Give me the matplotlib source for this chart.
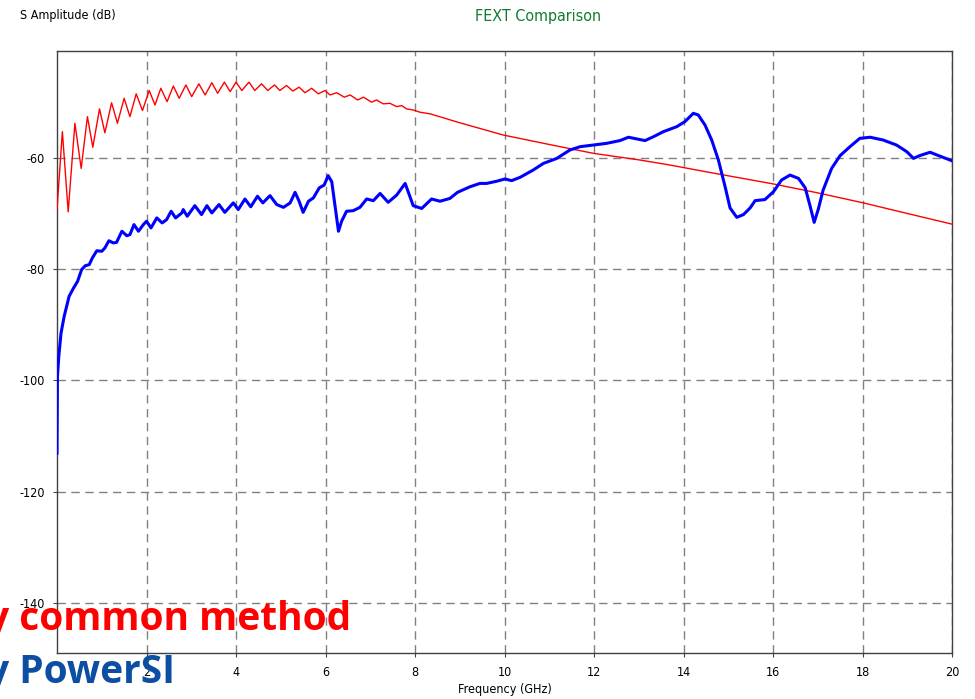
import matplotlib
matplotlib.use("Agg")
import matplotlib.pyplot as plt

# red trace (common method), GHz / dB
red_freq = [0.0, 0.12, 0.25, 0.40, 0.54, 0.68, 0.80, 0.95, 1.07, 1.22, 1.35, 1.50, 1.63, 1.77, 1.91,
            2.06, 2.19, 2.32, 2.46, 2.60, 2.73, 2.88, 3.01, 3.17, 3.31, 3.46, 3.59, 3.74, 3.87,
            4.00, 4.13, 4.29, 4.42, 4.57, 4.71, 4.86, 4.98, 5.13, 5.27, 5.41, 5.54, 5.69, 5.84,
            5.99, 6.10, 6.25, 6.42, 6.55, 6.72, 6.85, 7.03, 7.14, 7.29, 7.44, 7.59, 7.70, 7.81,
            7.96, 8.11, 8.34, 9.0, 9.97, 11.0, 11.99, 13.03, 13.70, 14.5, 16.01, 17.0, 18.02,
            19.0, 19.99]
red_db = [-69.3, -55.3, -69.7, -53.8, -61.9, -52.6, -58.1, -51.2, -55.5, -50.1, -53.8, -49.3, -52.6, -48.5, -51.5,
          -47.9, -50.5, -47.5, -49.9, -47.1, -49.3, -46.9, -49.0, -46.7, -48.7, -46.5, -48.4, -46.4, -48.1,
          -46.4, -47.9, -46.4, -47.9, -46.7, -47.9, -46.9, -47.9, -47.0, -48.0, -47.3, -48.3, -47.5, -48.5,
          -47.9, -48.7, -48.3, -49.1, -48.7, -49.6, -49.1, -50.0, -49.6, -50.3, -50.2, -50.8, -50.6, -51.2,
          -51.4, -51.8, -52.1, -53.7, -55.9, -57.6, -59.2, -60.4, -61.3, -62.5, -64.7, -66.3, -68.1,
          -70.0, -71.9]

# blue trace (PowerSI)
blue_freq = [0.0, 0.01, 0.04, 0.09, 0.16, 0.27, 0.37, 0.46, 0.55, 0.63, 0.72, 0.79, 0.89, 1.00, 1.07,
             1.16, 1.26, 1.33, 1.45, 1.56, 1.63, 1.72, 1.82, 1.93, 2.00, 2.10, 2.23, 2.35, 2.45, 2.55,
             2.65, 2.79, 2.82, 2.91, 3.08, 3.23, 3.35, 3.46, 3.62, 3.75, 3.94, 4.05, 4.20, 4.33, 4.48,
             4.60, 4.76, 4.91, 5.06, 5.21, 5.32, 5.41, 5.50, 5.62, 5.73, 5.86, 5.97, 6.06, 6.14, 6.21,
             6.29, 6.36, 6.47, 6.62, 6.77, 6.92, 7.07, 7.22, 7.40, 7.59, 7.78, 7.96, 8.15, 8.37, 8.56,
             8.78, 8.95, 9.23, 9.45, 9.60, 9.83, 10.01, 10.16, 10.35, 10.64, 10.87, 11.17, 11.46, 11.69,
             11.99, 12.28, 12.58, 12.77, 12.95, 13.14, 13.33, 13.55, 13.85, 14.03, 14.22, 14.33, 14.48,
             14.63, 14.78, 14.93, 15.04, 15.19, 15.34, 15.49, 15.60, 15.82, 16.01, 16.19, 16.38, 16.57,
             16.72, 16.83, 16.92, 17.01, 17.12, 17.31, 17.50, 17.72, 17.94, 18.17, 18.46, 18.76, 18.99,
             19.14, 19.28, 19.51, 19.73, 19.99]
blue_db = [-113.1, -99.3, -95.7, -91.5, -88.5, -84.9, -83.4, -82.2, -80.1, -79.4, -79.2, -78.0, -76.7, -76.8, -76.2,
           -74.9, -75.3, -75.2, -73.2, -74.0, -73.8, -72.0, -73.2, -72.0, -71.4, -72.6, -70.8, -71.7, -71.1, -69.6,
           -70.8, -69.9, -69.3, -70.5, -68.6, -70.2, -68.6, -69.9, -68.4, -69.8, -68.1, -69.3, -67.4, -68.8, -66.9,
           -68.1, -66.8, -68.4, -68.9, -68.1, -66.2, -67.8, -69.8, -67.8, -67.2, -65.4, -64.9, -63.2, -64.3, -68.4,
           -73.2, -71.4, -69.6, -69.5, -68.9, -67.4, -67.7, -66.4, -68.0, -66.7, -64.6, -68.6, -69.1, -67.4, -67.8,
           -67.3, -66.2, -65.2, -64.6, -64.6, -64.2, -63.8, -64.1, -63.5, -62.2, -61.0, -60.1, -58.6, -58.0,
           -57.7, -57.4, -56.9, -56.3, -56.6, -56.9, -56.2, -55.3, -54.4, -53.5, -52.0, -52.3, -54.1,
           -56.8, -60.4, -65.2, -69.0, -70.7, -70.2, -69.0, -67.7, -67.5, -66.1, -64.0, -63.1, -63.7,
           -65.4, -68.7, -71.6, -69.3, -65.8, -61.9, -59.6, -58.0, -56.5, -56.3, -56.8, -57.7, -58.9,
           -60.1, -59.6, -59.0, -59.7, -60.5]

x_ticks = [2, 4, 6, 8, 10, 12, 14, 16, 18, 20]
y_ticks = [-60, -80, -100, -120, -140]

small = dict(family='DejaVu Sans', stretch='condensed', fontsize=9)

fig = plt.figure(figsize=(9.75, 6.99), dpi=100)
ax = fig.add_axes([57 / 975, 1 - 653 / 699, 895 / 975, 602 / 699])

ax.plot(red_freq, red_db, color='#ff0000', lw=1.0, zorder=3)
ax.plot(blue_freq, blue_db, color='#0000ff', lw=2.2, zorder=4)

ax.set_xlim(0, 20)
ax.set_ylim(-149, -40.8)
ax.set_xticks(x_ticks)
ax.set_yticks(y_ticks)
ax.set_xticklabels([str(t) for t in x_ticks], **small)
ax.set_yticklabels([str(t) for t in y_ticks], **small)
ax.tick_params(length=3, width=0.8, color='#404040', pad=6)
ax.grid(True, color='#808080', linestyle=(0, (6, 4)), lw=1.0)
for s in ax.spines.values():
    s.set_color('#404040')
    s.set_linewidth(1.0)

fig.text(20 / 975, 1 - 16 / 699, 'S Amplitude (dB)', va='center', ha='left',
         color='black', **small)
fig.text(538 / 975, 1 - 16 / 699, 'FEXT Comparison', family='DejaVu Sans', stretch='condensed',
         fontsize=11.5, va='center', ha='center', color='#107a30')
fig.text(505 / 975, 1 - 690 / 699, 'Frequency (GHz)', va='center', ha='center',
         color='black', **small)

# overlay captions, partly cut by the left edge
fig.text(-13 / 975, 69 / 699, 'y common method', family='Open Sans', weight='bold',
         fontsize=28, color='#ff0000', va='baseline', ha='left')
fig.text(-13 / 975, 16 / 699, 'y PowerSI', family='Open Sans', weight='bold',
         fontsize=28, color='#0b4ea2', va='baseline', ha='left')

fig.savefig('out.png', dpi=100)
